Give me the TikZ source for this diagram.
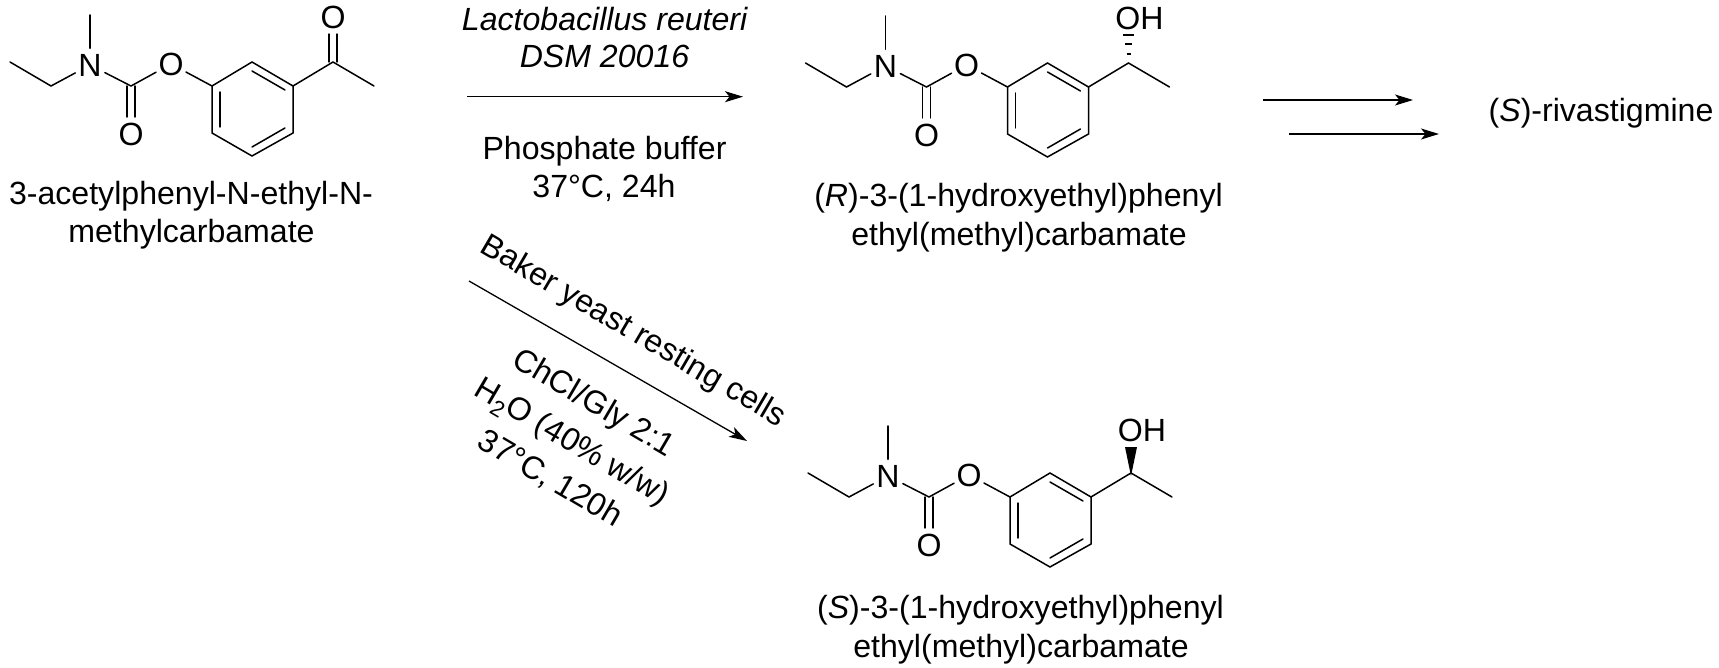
\documentclass[tikz,border=0pt]{standalone}
\usepackage{fontspec}
\setmainfont{Liberation Sans}
\usetikzlibrary{arrows.meta}
\tikzset{
  bond/.style={line width=1.5pt,line cap=round,black},
  atom/.style={circle,inner sep=0pt,minimum size=33pt,font=\fontsize{32.1}{38}\selectfont},
  txt/.style={inner sep=0pt,font=\fontsize{32.1}{38}\selectfont,text=black},
  rxn/.style={line width=1.3pt,-{Stealth[length=18pt,width=11pt,inset=4.5pt]},black},
}
\newcommand{\carbamate}[3]{%
\begin{scope}[shift={(#1,#2)},name prefix=#3-]
  \coordinate (et) at (10,62);
  \coordinate (ch2) at (51,86);
  \node[atom] (N) at (90,65) {N};
  \coordinate (me) at (90,15);
  \coordinate (cc) at (131,86);
  \node[atom] (Oc) at (131,134) {O};
  \node[atom] (Oe) at (171,64) {O};
  \coordinate (r1) at (212,86);
  \coordinate (r2) at (252,62);
  \coordinate (r3) at (293,86);
  \coordinate (r4) at (293,133);
  \coordinate (r5) at (252,156);
  \coordinate (r6) at (212,133);
  \coordinate (sc) at (333,62);
  \coordinate (sm) at (374,86);
  \draw[bond] (et) -- (ch2) -- (N);
  \draw[bond] (N) -- (me);
  \draw[bond] (N) -- (cc) -- (Oe);
  \draw[bond] ([xshift=-4pt]cc) -- ([xshift=-4pt]Oc.north);
  \draw[bond] ([xshift=4pt]cc) -- ([xshift=4pt]Oc.north);
  \draw[bond] (Oe) -- (r1);
  \draw[bond] (r1) -- (r2) -- (r3) -- (r4) -- (r5) -- (r6) -- cycle;
  \draw[bond] (220,92) -- (220,127);
  \draw[bond] (252,71) -- (285,90);
  \draw[bond] (285,128) -- (252,147);
  \draw[bond] (r3) -- (sc) -- (sm);
\end{scope}}
\begin{document}
\begin{tikzpicture}[x=1pt,y=-1pt]
\useasboundingbox (0,0) rectangle (1719,668);
% ketone
\carbamate{0}{0}{a}
\begin{scope}[name prefix=a-]
  \node[atom] (Ok) at (333,17) {O};
  \draw[bond] ([xshift=-4pt]sc) -- ([xshift=-4pt]Ok.south);
  \draw[bond] ([xshift=4pt]sc) -- ([xshift=4pt]Ok.south);
\end{scope}
\node[txt] (la1) at (191,196.5) {3-acetylphenyl-N-ethyl-N-};
\node[txt] (la2) at (191.5,234) {methylcarbamate};
% R alcohol
\carbamate{795.5}{1}{b}
\node[txt] (bOH) at (1139.5,18.5) {OH};
\foreach \yy/\w in {54/2,44/3.5,35/5.5}{
  \draw[line width=1.5pt] (1128.5-\w,\yy) -- (1128.5+\w,\yy);
}
\node[txt] (lb1) at (1018.5,198.5) {(\textit{R})-3-(1-hydroxyethyl)phenyl};
\node[txt] (lb2) at (1019,237.5) {ethyl(methyl)carbamate};
% S alcohol
\carbamate{798}{411}{c}
\node[txt] (cOH) at (1142,430) {OH};
\fill[black] (1131,476) -- (1125,447) -- (1137,447) -- cycle;
\node[txt] (lc1) at (1020.5,610) {(\textit{S})-3-(1-hydroxyethyl)phenyl};
\node[txt] (lc2) at (1021,649) {ethyl(methyl)carbamate};
% reaction arrows
\coordinate (a1s) at (467,96.7);
\coordinate (a1e) at (743,96.7);
\draw[rxn] (a1s) -- (a1e);
\coordinate (a2s) at (469,281);
\coordinate (a2e) at (747,441);
\draw[rxn] (a2s) -- (a2e);
\coordinate (a3s) at (1263,100);
\coordinate (a3e) at (1413,100);
\draw[rxn] (a3s) -- (a3e);
\coordinate (a4s) at (1289,134);
\coordinate (a4e) at (1439,134);
\draw[rxn] (a4s) -- (a4e);
% conditions
\node[txt] (t1) at (605,19.5) {\textit{Lactobacillus reuteri}};
\node[txt] (t2) at (604.5,56.7) {\textit{DSM 20016}};
\node[txt] (t3) at (604.5,151) {Phosphate buffer};
\node[txt] (t4) at (604,188) {37°C, 24h};
\node[txt,rotate=-30.4] (d1) at (633,332) {Baker yeast resting cells};
\node[txt,rotate=-30.4] (d2) at (593,404) {ChCl/Gly 2:1};
\node[txt,rotate=-30.4] (d3) at (571,443) {H\textsubscript{2}O (40\% w/w)};
\node[txt,rotate=-30.4] (d4) at (550,479) {37°C, 120h};
\node[txt] (riv) at (1601,113) {(\textit{S})-rivastigmine};
\end{tikzpicture}
\end{document}
